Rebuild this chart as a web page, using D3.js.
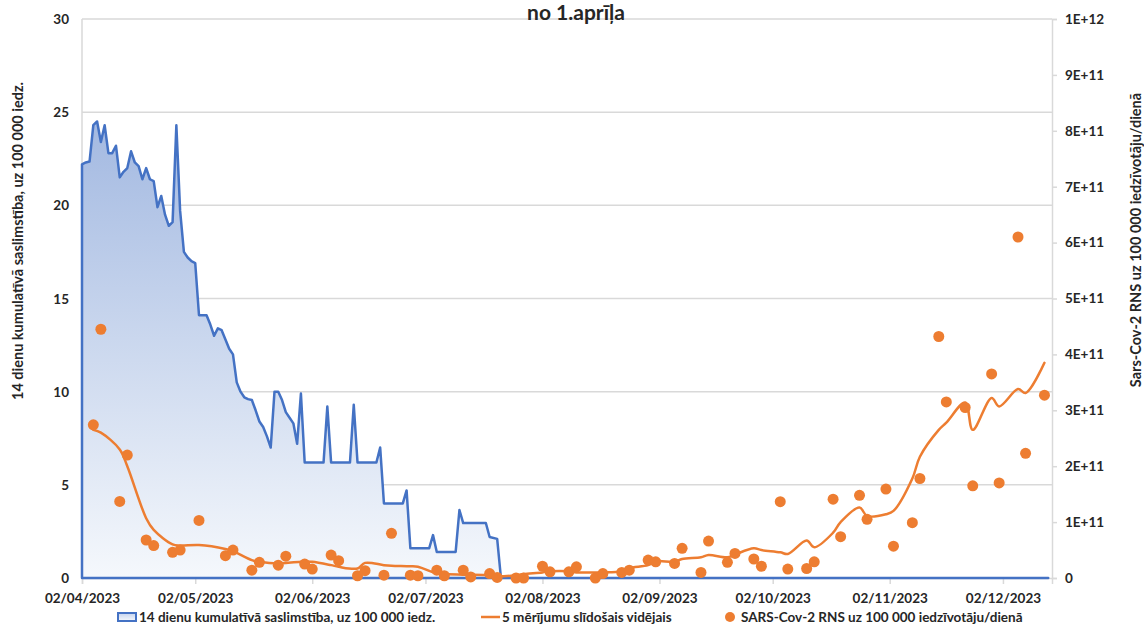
<!DOCTYPE html>
<html>
<head>
<meta charset="utf-8">
<script src="https://cdn.jsdelivr.net/npm/d3@7"></script>
<style>
  body { margin: 0; background: #fff; }
  svg text { font-family: Lato, "Open Sans", sans-serif; font-weight: bold; fill: #262626; }
</style>
</head>
<body>
<svg id="chart" width="1144" height="627"></svg>
<script>
  // 14 day cumulative incidence per 100 000 (left axis)
  var incidenceDates = ["2023-04-02","2023-04-03","2023-04-04","2023-04-05","2023-04-06","2023-04-07","2023-04-08","2023-04-09","2023-04-10","2023-04-11",
    "2023-04-12","2023-04-13","2023-04-14","2023-04-15","2023-04-16","2023-04-17","2023-04-18","2023-04-19","2023-04-20","2023-04-21",
    "2023-04-22","2023-04-23","2023-04-24","2023-04-25","2023-04-26","2023-04-27","2023-04-28","2023-04-29","2023-04-30","2023-05-01",
    "2023-05-02","2023-05-03","2023-05-05","2023-05-06","2023-05-07","2023-05-08","2023-05-09","2023-05-10","2023-05-11","2023-05-12",
    "2023-05-13","2023-05-14","2023-05-15","2023-05-16","2023-05-17","2023-05-18","2023-05-19","2023-05-20","2023-05-21","2023-05-22",
    "2023-05-23","2023-05-24","2023-05-25","2023-05-26","2023-05-27","2023-05-28","2023-05-29","2023-05-30","2023-05-31","2023-06-05",
    "2023-06-06","2023-06-07","2023-06-12","2023-06-13","2023-06-14","2023-06-19","2023-06-20","2023-06-21","2023-06-26","2023-06-27",
    "2023-06-28","2023-07-03","2023-07-04","2023-07-05","2023-07-10","2023-07-11","2023-07-12","2023-07-18","2023-07-19","2023-07-21",
    "2023-07-22","2023-12-14"];
  var incidenceValues = [22.2,22.3,22.35,24.3,24.5,23.4,24.3,22.8,22.8,23.2,
    21.5,21.8,22.0,22.9,22.3,22.1,21.4,22.0,21.4,21.3,
    19.9,20.5,19.5,18.9,19.1,24.3,19.7,17.5,17.2,17.0,
    16.9,14.1,14.1,13.6,13.0,13.4,13.3,12.8,12.3,12.0,
    10.5,10.0,9.7,9.6,9.55,9.0,8.4,8.1,7.6,7.0,
    10.0,10.0,9.55,8.9,8.6,8.3,7.2,9.9,6.2,6.2,
    9.2,6.2,6.2,9.3,6.2,6.2,7.0,4.0,4.0,4.7,
    1.6,1.6,2.3,1.4,1.4,3.65,2.95,2.95,2.2,2.1,
    0,0];

  // SARS-CoV-2 RNA measurements, in units of 1E+11 (right axis)
  var rnaDates = ["2023-04-05","2023-04-07","2023-04-12","2023-04-14","2023-04-19","2023-04-21","2023-04-26","2023-04-28","2023-05-03","2023-05-10",
    "2023-05-12","2023-05-17","2023-05-19","2023-05-24","2023-05-26","2023-05-31","2023-06-02","2023-06-07","2023-06-09","2023-06-14",
    "2023-06-16","2023-06-21","2023-06-23","2023-06-28","2023-06-30","2023-07-05","2023-07-07","2023-07-12","2023-07-14","2023-07-19",
    "2023-07-21","2023-07-26","2023-07-28","2023-08-02","2023-08-04","2023-08-09","2023-08-11","2023-08-16","2023-08-18","2023-08-23",
    "2023-08-25","2023-08-30","2023-09-01","2023-09-06","2023-09-08","2023-09-13","2023-09-15","2023-09-20","2023-09-22","2023-09-27",
    "2023-09-29","2023-10-04","2023-10-06","2023-10-11","2023-10-13","2023-10-18","2023-10-20","2023-10-25","2023-10-27","2023-11-01",
    "2023-11-03","2023-11-08","2023-11-10","2023-11-15","2023-11-17","2023-11-22","2023-11-24","2023-11-29","2023-12-01","2023-12-06",
    "2023-12-08","2023-12-13"];
  var rnaValues = [2.74,4.45,1.37,2.2,0.68,0.58,0.46,0.5,1.03,0.4,
    0.5,0.14,0.28,0.23,0.39,0.25,0.16,0.41,0.31,0.04,
    0.13,0.05,0.8,0.05,0.04,0.14,0.04,0.14,0.02,0.08,
    0.01,0.0,0.0,0.21,0.11,0.11,0.2,0.0,0.08,0.1,
    0.14,0.32,0.29,0.26,0.53,0.1,0.66,0.28,0.44,0.34,
    0.21,1.365,0.16,0.17,0.29,1.41,0.74,1.48,1.05,1.59,
    0.57,0.99,1.78,4.32,3.15,3.05,1.65,3.65,1.7,6.1,
    2.23,3.27];
  // 5 measurement moving average, in units of 1E+11
  var rnaAverage = [2.65,2.6,2.3,2.0,1.07,0.86,0.6,0.58,0.59,0.52,
    0.48,0.32,0.29,0.26,0.27,0.29,0.29,0.23,0.2,0.17,
    0.27,0.23,0.22,0.21,0.2,0.08,0.07,0.06,0.06,0.05,
    0.03,0.05,0.07,0.1,0.12,0.12,0.1,0.1,0.1,0.12,
    0.18,0.23,0.3,0.29,0.34,0.37,0.41,0.37,0.42,0.53,
    0.5,0.46,0.43,0.67,0.55,0.81,1.0,1.26,1.11,1.14,
    1.2,1.78,2.17,2.65,2.78,3.14,2.65,3.22,3.07,3.38,
    3.31,3.85];

  var leftTicks = [0, 5, 10, 15, 20, 25, 30];
  var rightTicks = [0, 1e11, 2e11, 3e11, 4e11, 5e11, 6e11, 7e11, 8e11, 9e11, 1e12];
  var monthTicks = ["2023-04-02","2023-05-02","2023-06-02","2023-07-02","2023-08-02","2023-09-02","2023-10-02","2023-11-02","2023-12-02"];
  var dateRange = ["2023-04-02", "2023-12-15"];

  var title = "no 1.aprīļa";
  var leftTitle = "14 dienu kumulatīvā saslimstība, uz 100 000 iedz.";
  var rightTitle = "Sars-Cov-2 RNS uz 100 000 iedzīvotāju/dienā";
  var legendNames = ["14 dienu kumulatīvā saslimstība, uz 100 000 iedz.", "5 mērījumu slīdošais vidējais", "SARS-Cov-2 RNS uz 100 000 iedzīvotāju/dienā"];

(function() {
  'use strict';

  var blue = "#4472C4", orange = "#ED7D31", grid = "#D9D9D9";
  var tickFont = "13.5px", titleFont = "14.5px";

  var parse = d3.timeParse("%Y-%m-%d");
  var svg = d3.select("#chart");
  var plotLeft = 82, plotRight = 1052, plotTop = 19, plotBottom = 578;

  var x = d3.scaleTime().domain(dateRange.map(parse)).range([plotLeft, plotRight]);
  var yL = d3.scaleLinear().domain([0, 30]).range([plotBottom, plotTop]);
  var yR = d3.scaleLinear().domain([0, 1e12]).range([plotBottom, plotTop]);

  var incidence = incidenceDates.map(function(d, i) { return {date: parse(d), value: incidenceValues[i]}; });
  var rna = rnaDates.map(function(d, i) {
    return {date: parse(d), value: rnaValues[i] * 1e11, avg: rnaAverage[i] * 1e11};
  });

  // gradient for the area
  var defs = svg.append("defs");
  var grad = defs.append("linearGradient").attr("id", "areaGrad")
    .attr("gradientUnits", "userSpaceOnUse")
    .attr("x1", 0).attr("x2", 0).attr("y1", yL(24.5)).attr("y2", plotBottom);
  grad.append("stop").attr("offset", "0%").attr("stop-color", "#A3B9E1");
  grad.append("stop").attr("offset", "100%").attr("stop-color", "#F5F8FC");
  var lgrad = defs.append("linearGradient").attr("id", "legGrad")
    .attr("x1", 0).attr("x2", 0).attr("y1", 0).attr("y2", 1);
  lgrad.append("stop").attr("offset", "0%").attr("stop-color", "#C5D3EE");
  lgrad.append("stop").attr("offset", "100%").attr("stop-color", "#F5F8FC");

  // horizontal gridlines
  svg.append("g").selectAll("line").data(leftTicks.slice(1)).enter().append("line")
    .attr("x1", plotLeft).attr("x2", plotRight)
    .attr("y1", function(d) { return yL(d); }).attr("y2", function(d) { return yL(d); })
    .attr("stroke", grid).attr("stroke-width", 1.5);

  // left axis
  svg.append("line").attr("x1", plotLeft).attr("x2", plotLeft).attr("y1", plotTop).attr("y2", plotBottom)
    .attr("stroke", grid).attr("stroke-width", 1.5);
  svg.append("g").selectAll("text").data(leftTicks).enter().append("text")
    .attr("x", 69).attr("y", function(d) { return yL(d) + 5; })
    .attr("text-anchor", "end").style("font-size", tickFont)
    .text(function(d) { return d; });

  // right axis
  function sci(v) {
    if (v === 0) return "0";
    var e = Math.floor(Math.log10(v) + 1e-9);
    return Math.round(v / Math.pow(10, e)) + "E+" + e;
  }
  var rAxis = svg.append("g").attr("transform", "translate(" + plotRight + ",0)")
    .call(d3.axisRight(yR).tickValues(rightTicks).tickSize(5).tickPadding(8).tickFormat(sci));
  rAxis.select(".domain").attr("stroke", grid).attr("stroke-width", 1.5);
  rAxis.selectAll(".tick line").attr("stroke", grid).attr("stroke-width", 1.5);
  rAxis.selectAll("text").style("font-size", tickFont).style("font-family", "Lato, sans-serif").attr("fill", "#262626");

  // x axis
  var xAxis = svg.append("g").attr("transform", "translate(0," + plotBottom + ")")
    .call(d3.axisBottom(x).tickValues(monthTicks.map(parse)).tickSize(6).tickPadding(9)
      .tickFormat(d3.timeFormat("%d/%m/%Y")));
  xAxis.select(".domain").attr("stroke", grid).attr("stroke-width", 1.5);
  xAxis.selectAll(".tick line").attr("stroke", grid).attr("stroke-width", 1.5);
  xAxis.selectAll("text").style("font-size", tickFont).style("font-family", "Lato, sans-serif").attr("fill", "#262626");

  // incidence area
  var area = d3.area()
    .x(function(d) { return x(d.date); })
    .y0(plotBottom)
    .y1(function(d) { return yL(d.value); });
  svg.append("path").datum(incidence)
    .attr("d", area)
    .attr("fill", "url(#areaGrad)")
    .attr("stroke", blue).attr("stroke-width", 2.5).attr("stroke-linejoin", "round");

  // moving average line
  var avgLine = d3.line()
    .x(function(d) { return x(d.date); })
    .y(function(d) { return yR(d.avg); })
    .curve(d3.curveCatmullRom.alpha(0.5));
  svg.append("path").datum(rna)
    .attr("d", avgLine)
    .attr("fill", "none").attr("stroke", orange).attr("stroke-width", 2.5)
    .attr("stroke-linejoin", "round").attr("stroke-linecap", "round");

  // measurements
  svg.append("g").selectAll("circle").data(rna).enter().append("circle")
    .attr("cx", function(d) { return x(d.date); })
    .attr("cy", function(d) { return yR(d.value); })
    .attr("r", 5.5).attr("fill", orange);

  // titles
  svg.append("text").attr("x", 576).attr("y", 20).attr("text-anchor", "middle")
    .style("font-size", "21px").text(title);
  svg.append("text").attr("transform", "translate(23,241) rotate(-90)")
    .attr("text-anchor", "middle").style("font-size", titleFont).text(leftTitle);
  svg.append("text").attr("transform", "translate(1141,240) rotate(-90)")
    .attr("text-anchor", "middle").style("font-size", titleFont).text(rightTitle);

  // legend
  var ly = 617;
  var leg = svg.append("g");
  leg.append("rect").attr("x", 118).attr("y", ly - 4).attr("width", 18).attr("height", 8)
    .attr("fill", "url(#legGrad)").attr("stroke", blue).attr("stroke-width", 2);
  leg.append("text").attr("x", 139).attr("y", ly + 5).style("font-size", tickFont).text(legendNames[0]);
  leg.append("line").attr("x1", 481).attr("x2", 500).attr("y1", ly).attr("y2", ly)
    .attr("stroke", orange).attr("stroke-width", 2.5);
  leg.append("text").attr("x", 502).attr("y", ly + 5).style("font-size", tickFont).text(legendNames[1]);
  leg.append("circle").attr("cx", 730).attr("cy", ly).attr("r", 5).attr("fill", orange);
  leg.append("text").attr("x", 741).attr("y", ly + 5).style("font-size", tickFont).text(legendNames[2]);
})();
</script>
</body>
</html>
